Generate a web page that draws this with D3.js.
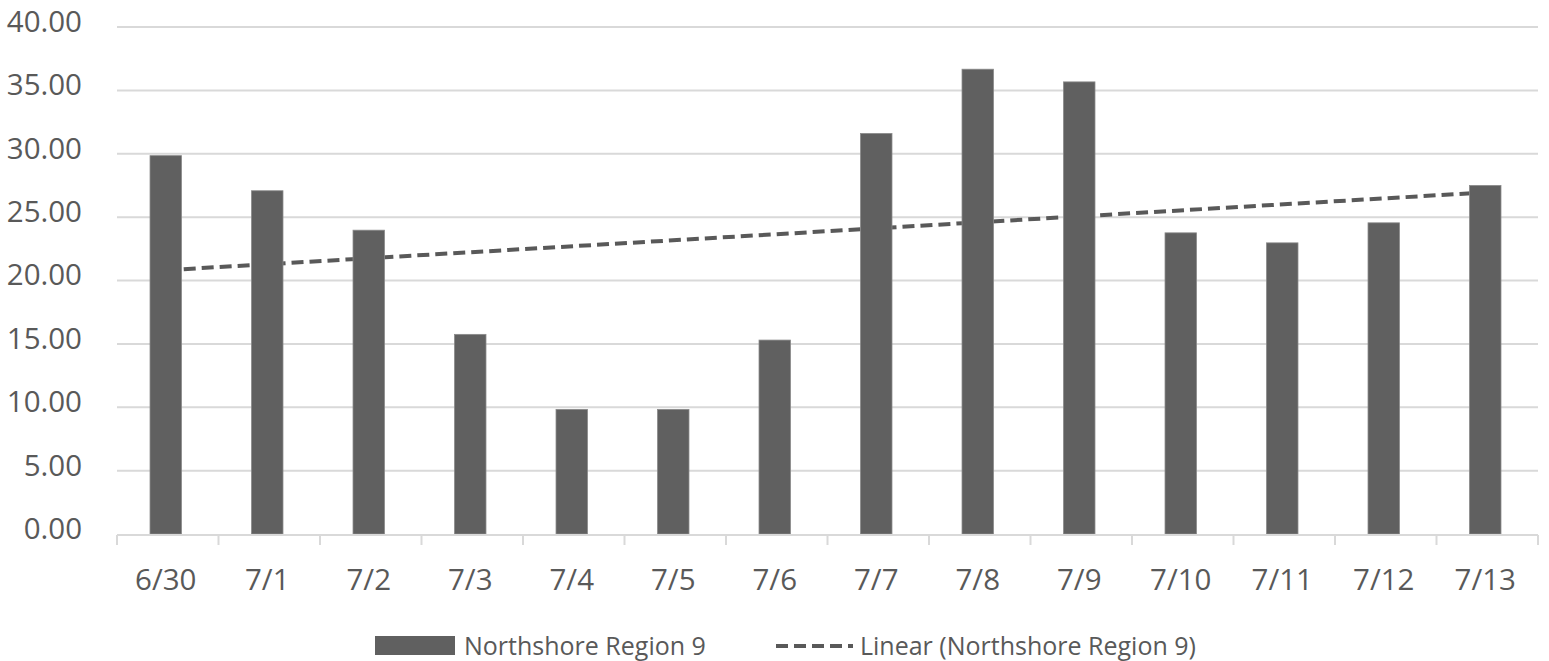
<!DOCTYPE html>
<html>
<head>
<meta charset="utf-8">
<script src="https://cdn.jsdelivr.net/npm/d3@7"></script>
<style>
  html, body { margin: 0; padding: 0; background: #ffffff; }
  svg { display: block; }
  text { font-family: "Open Sans", "Noto Sans", sans-serif; fill: #595959; }
</style>
</head>
<body>
<svg id="chart" width="1549" height="661"></svg>
<script>
// Daily values for Northshore Region 9
const dates = ["6/30", "7/1", "7/2", "7/3", "7/4", "7/5", "7/6", "7/7", "7/8", "7/9", "7/10", "7/11", "7/12", "7/13"];
const values = [29.85, 27.08, 23.97, 15.75, 9.83, 9.83, 15.3, 31.6, 36.67, 35.67, 23.76, 22.97, 24.55, 27.5];
const yTicks = [0, 5, 10, 15, 20, 25, 30, 35, 40];
const seriesName = "Northshore Region 9";
const trendName = "Linear (Northshore Region 9)";

const svg = d3.select("#chart");
const plot = { left: 117, right: 1538, top: 27, bottom: 534 };

// Bars sit a touch left of the category centre
const x = d3.scaleBand()
  .domain(dates)
  .range([plot.left - 2, plot.right - 2])
  .paddingInner(0.69)
  .paddingOuter(0.345);

const y = d3.scaleLinear()
  .domain([0, 40])
  .range([plot.bottom, plot.top]);

// Horizontal gridlines
svg.append("g")
  .selectAll("line")
  .data(yTicks.filter(d => d > 0))
  .join("line")
  .attr("x1", plot.left)
  .attr("x2", plot.right)
  .attr("y1", d => y(d))
  .attr("y2", d => y(d))
  .attr("stroke", "#d9d9d9")
  .attr("stroke-width", 2);

// Y axis labels
const yAxis = d3.axisLeft(y).tickValues(yTicks).tickFormat(d3.format(".2f")).tickSize(0).tickPadding(0);
const yG = svg.append("g").attr("transform", `translate(${plot.left - 35},0)`).call(yAxis);
yG.select(".domain").remove();
yG.selectAll("text")
  .attr("font-size", 29.5)
  .attr("font-family", null)
  .attr("fill", "#595959")
  .attr("dy", "0.32em")
  .attr("y", -5);

// Linear trendline (least squares over category index), drawn behind the bars
const n = values.length;
const idx = d3.range(1, n + 1);
const mx = d3.mean(idx), my = d3.mean(values);
const slope = d3.sum(idx, (v, i) => (v - mx) * (values[i] - my)) / d3.sum(idx, v => (v - mx) * (v - mx));
const intercept = my - slope * mx;
const trend = dates.map((d, i) => ({ date: d, v: intercept + slope * (i + 1) }));

svg.append("path")
  .datum([trend[0], trend[n - 1]])
  .attr("d", d3.line().x(d => x(d.date) + x.bandwidth() / 2).y(d => y(d.v)))
  .attr("fill", "none")
  .attr("stroke", "#595959")
  .attr("stroke-width", 4)
  .attr("stroke-dasharray", "12,6");

// Bars
svg.append("g")
  .selectAll("rect")
  .data(values)
  .join("rect")
  .attr("x", (d, i) => x(dates[i]))
  .attr("y", d => y(d))
  .attr("width", x.bandwidth())
  .attr("height", d => y(0) - y(d))
  .attr("fill", "#606060")
  .attr("stroke", "#8a8a8a")
  .attr("stroke-width", 0.8);

// X axis with category boundary ticks
const xG = svg.append("g").attr("transform", `translate(0,${plot.bottom + 1})`);
xG.append("line")
  .attr("x1", plot.left).attr("x2", plot.right)
  .attr("stroke", "#d9d9d9").attr("stroke-width", 2);
xG.selectAll("line.tick")
  .data(d3.range(dates.length + 1))
  .join("line")
  .attr("class", "tick")
  .attr("x1", i => plot.left + i * (plot.right - plot.left) / dates.length)
  .attr("x2", i => plot.left + i * (plot.right - plot.left) / dates.length)
  .attr("y1", 0).attr("y2", 10)
  .attr("stroke", "#d9d9d9").attr("stroke-width", 2);
xG.selectAll("text")
  .data(dates)
  .join("text")
  .attr("x", d => x(d) + x.bandwidth() / 2)
  .attr("y", 55)
  .attr("text-anchor", "middle")
  .attr("font-size", 29.5)
  .text(d => d);

// Legend
const lg = svg.append("g").attr("transform", "translate(0,646)");
lg.append("rect").attr("x", 375).attr("y", -10).attr("width", 80).attr("height", 19).attr("fill", "#606060");
lg.append("text").attr("x", 464).attr("y", 0).attr("dy", "0.35em").attr("font-size", 25).text(seriesName);
lg.append("line").attr("x1", 776).attr("x2", 853).attr("y1", 0).attr("y2", 0)
  .attr("stroke", "#595959").attr("stroke-width", 4).attr("stroke-dasharray", "12,6");
lg.append("text").attr("x", 860).attr("y", 0).attr("dy", "0.35em").attr("font-size", 25).text(trendName);
</script>
</body>
</html>
